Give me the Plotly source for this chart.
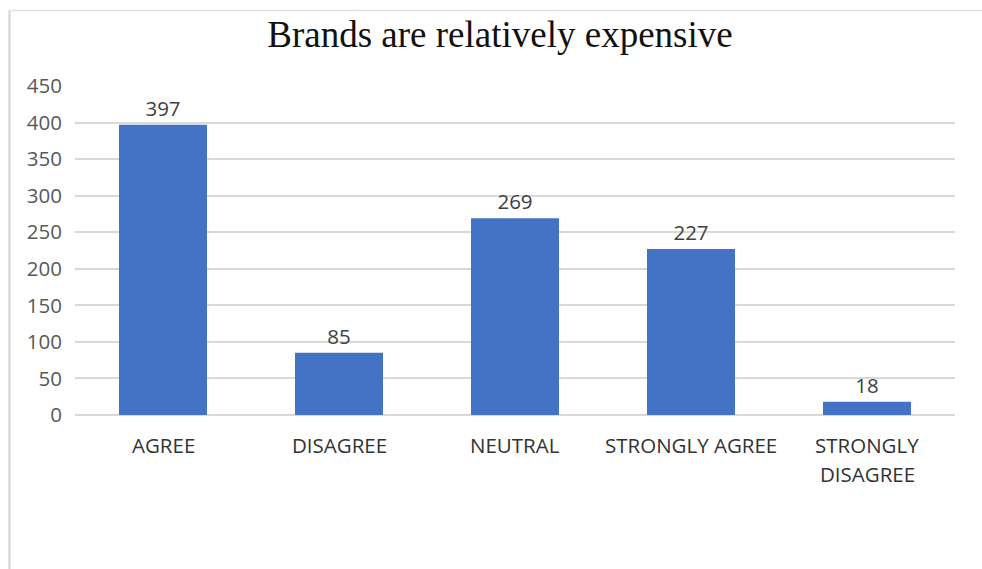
import plotly.graph_objects as go

# Survey responses: "Brands are relatively expensive"
categories = ["AGREE", "DISAGREE", "NEUTRAL", "STRONGLY AGREE", "STRONGLY DISAGREE"]
counts = [397, 85, 269, 227, 18]
# Axis label lines (long labels wrap onto two lines)
label_lines = [["AGREE"], ["DISAGREE"], ["NEUTRAL"], ["STRONGLY AGREE"], ["STRONGLY", "DISAGREE"]]
y_ticks = [0, 50, 100, 150, 200, 250, 300, 350, 400, 450]

W, H = 982, 569
L, R, T, B = 75, 27, 86, 154
plot_w, plot_h = W - L - R, H - T - B

BAR = "#4472C4"
GRID = "#D9D9D9"
SANS = "Open Sans, Noto Sans, sans-serif"
FS = 20.5

fig = go.Figure(
    go.Bar(
        x=categories,
        y=counts,
        marker=dict(color=BAR, line=dict(width=0)),
        text=[str(v) for v in counts],
        textposition="outside",
        textfont=dict(family=SANS, size=FS, color="#404040"),
        cliponaxis=False,
        hoverinfo="skip",
    )
)

# Category labels below the axis, wrapped with generous line spacing
annotations = []
for cat, lines in zip(categories, label_lines):
    for i, line in enumerate(lines):
        annotations.append(dict(
            x=cat, xref="x", y=0, yref="paper",
            text=line, showarrow=False,
            xanchor="center", yanchor="middle",
            yshift=-30 - 29 * i,
            font=dict(family=SANS, size=FS, color="#333333"),
        ))


def px_x(p):
    return (p - L) / plot_w


def px_y(p):
    return (H - B - p) / plot_h


# Chart-area frame (left and top edges)
shapes = [
    dict(type="line", xref="paper", yref="paper",
         x0=px_x(9.5), x1=px_x(9.5), y0=px_y(10.5), y1=px_y(H + 5),
         line=dict(color="#D0D0D0", width=2)),
    dict(type="line", xref="paper", yref="paper",
         x0=px_x(9.5), x1=px_x(W + 5), y0=px_y(10.5), y1=px_y(10.5),
         line=dict(color="#E0E0E0", width=1.5)),
]

fig.update_layout(
    width=W, height=H,
    margin=dict(l=L, r=R, t=T, b=B, pad=0),
    paper_bgcolor="white", plot_bgcolor="white",
    bargap=0.5,
    showlegend=False,
    title=dict(
        text="Brands are relatively expensive",
        font=dict(family="Liberation Serif, Times New Roman, serif", size=37, color="#111111"),
        x=500 / W, xref="container", xanchor="center",
        y=1 - 34 / H, yref="container", yanchor="middle",
    ),
    annotations=annotations,
    shapes=shapes,
)

fig.update_xaxes(showticklabels=False, showgrid=False, zeroline=False,
                 showline=False, fixedrange=True)
fig.update_yaxes(range=[0, 450], tickvals=y_ticks, showgrid=True,
                 gridcolor=GRID, gridwidth=1.5, zeroline=True,
                 zerolinecolor=GRID, zerolinewidth=1.5, showline=False,
                 ticks="", ticklabelstandoff=12,
                 tickfont=dict(family=SANS, size=FS, color="#595959"))

fig.write_html("out.html")
